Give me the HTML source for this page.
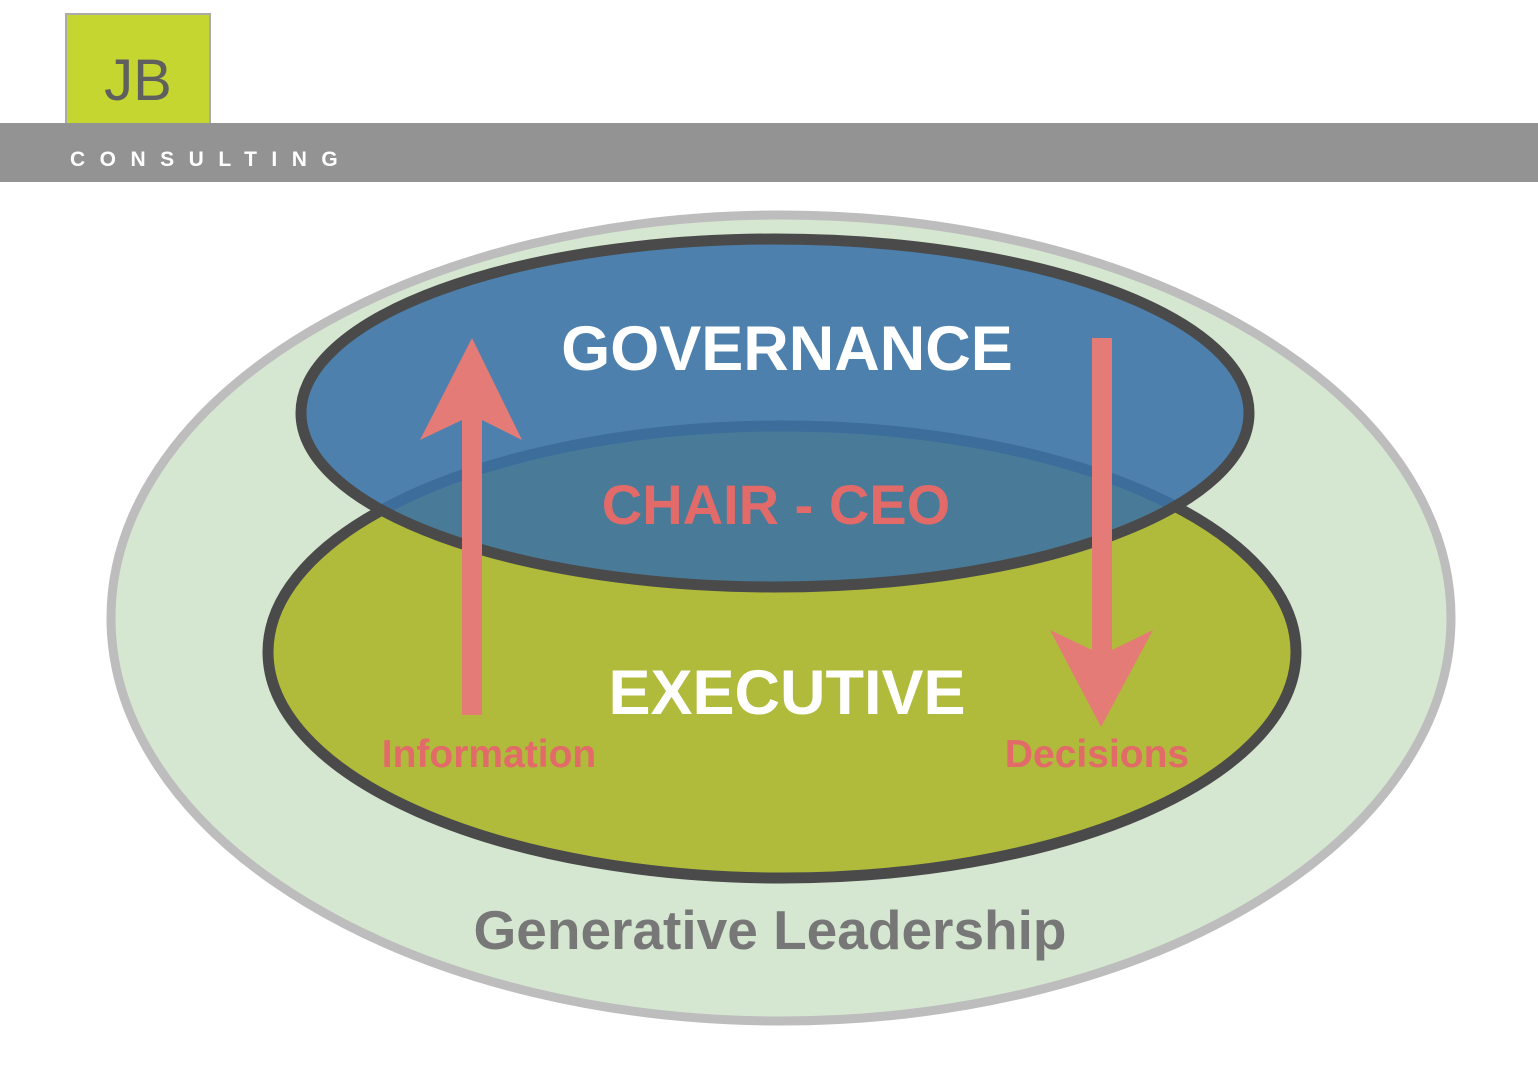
<!DOCTYPE html>
<html><head><style>
html,body{margin:0;padding:0;background:#fff;width:1538px;height:1067px;overflow:hidden;}
</style></head><body>
<svg width="1538" height="1067" xmlns="http://www.w3.org/2000/svg" style="position:absolute;left:0;top:0">
<rect x="66" y="14" width="144" height="112" fill="#c5d630" stroke="#aaa" stroke-width="2"/>
<text x="138" y="100" text-anchor="middle" font-family="Liberation Sans, sans-serif" font-size="58" fill="#5f5f5f">JB</text>
<rect x="0" y="123" width="1538" height="59" fill="#939393"/>
<text x="70" y="166" font-family="Liberation Sans, sans-serif" font-size="21" font-weight="bold" fill="#fff" letter-spacing="14.5">CONSULTING</text>
<ellipse cx="781" cy="618" rx="670" ry="403" fill="#d6e7d1" stroke="#bdbdbd" stroke-width="9"/>
<ellipse cx="782" cy="652" rx="514" ry="226" fill="#b0ba3b" stroke="#4a4a4a" stroke-width="11"/>
<ellipse cx="775" cy="413" rx="474" ry="174" fill="#3a72a6" fill-opacity="0.88" stroke="#4a4a4a" stroke-width="11"/>
<text x="787" y="370" text-anchor="middle" font-family="Liberation Sans, sans-serif" font-weight="bold" font-size="63" fill="#fff">GOVERNANCE</text>
<text x="776" y="524" text-anchor="middle" font-family="Liberation Sans, sans-serif" font-weight="bold" font-size="56" fill="#e26a69">CHAIR - CEO</text>
<text x="787" y="714" text-anchor="middle" font-family="Liberation Sans, sans-serif" font-weight="bold" font-size="63" fill="#fff">EXECUTIVE</text>
<polygon points="462,715 482,715 482,420 522,440 472,338 420,440 462,420" fill="#e57b77"/>
<polygon points="1092,338 1112,338 1112,650 1153,630 1101,727 1050,630 1092,650" fill="#e57b77"/>
<text x="489" y="767" text-anchor="middle" font-family="Liberation Sans, sans-serif" font-weight="bold" font-size="39" fill="#e26a69">Information</text>
<text x="1097" y="767" text-anchor="middle" font-family="Liberation Sans, sans-serif" font-weight="bold" font-size="39" fill="#e26a69">Decisions</text>
<text x="770" y="949" text-anchor="middle" font-family="Liberation Sans, sans-serif" font-weight="bold" font-size="55" fill="#777">Generative Leadership</text>
</svg>
</body></html>
